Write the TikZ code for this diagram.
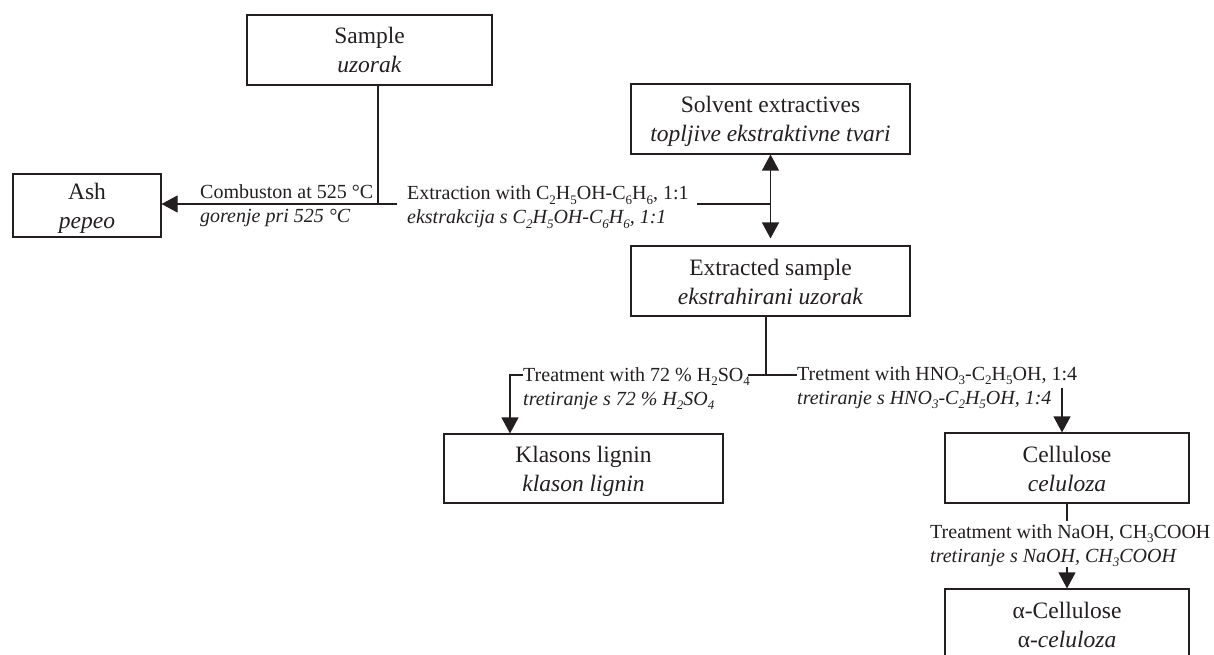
\documentclass[tikz,border=0pt]{standalone}
\usepackage{fontspec}
\setmainfont{Liberation Serif}
\usetikzlibrary{arrows.meta}
\definecolor{ink}{HTML}{231F20}
\newcommand{\twoline}[2]{\begin{tabular}[t]{@{}c@{}}#1\\\textit{#2}\end{tabular}}
\newcommand{\lbltwo}[2]{\begin{tabular}[t]{@{}l@{}}#1\\\textit{#2}\end{tabular}}
\newcommand{\chsub}[1]{\raisebox{-4.5pt}{\fontsize{13}{13}\selectfont #1}}
\begin{document}
\begin{tikzpicture}[x=1pt,y=-1pt,
  box/.style={draw=ink, line width=1.1pt, inner sep=0pt, text height=25pt, text depth=37pt,
    font=\fontsize{23.5}{29}\selectfont, text=ink},
  lbl/.style={anchor=base west, inner sep=0pt, font=\fontsize{20}{24}\selectfont, text=ink},
  conn/.style={draw=ink, line width=1.1pt},
  arr/.style={conn, -{Triangle[length=16pt,width=17pt]}},
  darr/.style={conn, {Triangle[length=16pt,width=17pt]}-{Triangle[length=16pt,width=17pt]}},
]
\useasboundingbox (0,0) rectangle (1214,655);
% boxes
\node[box, minimum width=245pt, minimum height=70pt] (sample) at (369.5,50) {\twoline{Sample}{uzorak}};
\node[box, minimum width=148pt, minimum height=63pt] (ash) at (87,205.5) {\twoline{Ash}{pepeo}};
\node[box, minimum width=279pt, minimum height=70pt] (solv) at (770.5,119) {\twoline{Solvent extractives}{topljive ekstraktivne tvari}};
\node[box, minimum width=279pt, minimum height=70pt] (ext) at (770.5,281) {\twoline{Extracted sample}{ekstrahirani uzorak}};
\node[box, minimum width=279pt, minimum height=69pt] (klas) at (583.5,468.5) {\twoline{Klasons lignin}{klason lignin}};
\node[box, minimum width=244pt, minimum height=70pt] (cell) at (1067,468) {\twoline{Cellulose}{celuloza}};
\node[box, minimum width=244pt, minimum height=70pt] (acel) at (1067,624) {\twoline{α-Cellulose}{\textup{α}-celuloza}};
% labels
\node[lbl] (lcomb) at (200,198) {\lbltwo{Combuston at 525 °C}{gorenje pri 525 °C}};
\node[lbl] (lextr) at (407,200) {\lbltwo{Extraction with C\chsub{2}H\chsub{5}OH-C\chsub{6}H\chsub{6}, 1:1}{ekstrakcija s C\chsub{2}H\chsub{5}OH-C\chsub{6}H\chsub{6}, 1:1}};
\node[lbl] (lsulf) at (523,381) {\lbltwo{Treatment with 72 \% H\chsub{2}SO\chsub{4}}{tretiranje s 72 \% H\chsub{2}SO\chsub{4}}};
\node[lbl] (lnitr) at (797,380) {\lbltwo{Tretment with HNO\chsub{3}-C\chsub{2}H\chsub{5}OH, 1:4}{tretiranje s HNO\chsub{3}-C\chsub{2}H\chsub{5}OH, 1:4}};
\node[lbl] (lnaoh) at (930,538) {\lbltwo{Treatment with NaOH, CH\chsub{3}COOH}{tretiranje s NaOH, CH\chsub{3}COOH}};
% connectors
\coordinate (j1) at (378,204);
\coordinate (c1) at (397,204);
\draw[conn] (sample.south -| j1) -- (j1);
\draw[arr] (c1) -- (ash.east |- c1);
\coordinate (c2) at (697,204);
\draw[conn] (c2) -- (c2 -| solv.south);
\draw[darr, shorten >=7pt] (solv.south) -- (ext.north);
\coordinate (j2) at (766,375);
\draw[conn] (ext.south -| j2) -- (j2);
\coordinate (c3) at (748,375);
\coordinate (c4) at (797,375);
\draw[conn] (c3) -- (c4);
\coordinate (c5) at (523,375);
\coordinate (c6) at (510,375);
\draw[arr] (c5) -- (c6) -- (klas.north -| c6);
\coordinate (c7) at (1062,388);
\draw[arr] (c7) -- (cell.north -| c7);
\coordinate (c8) at (1067,521);
\draw[conn] (cell.south) -- (c8);
\coordinate (c9) at (1067,567);
\draw[arr] (c9) -- (acel.north);
\end{tikzpicture}
\end{document}
